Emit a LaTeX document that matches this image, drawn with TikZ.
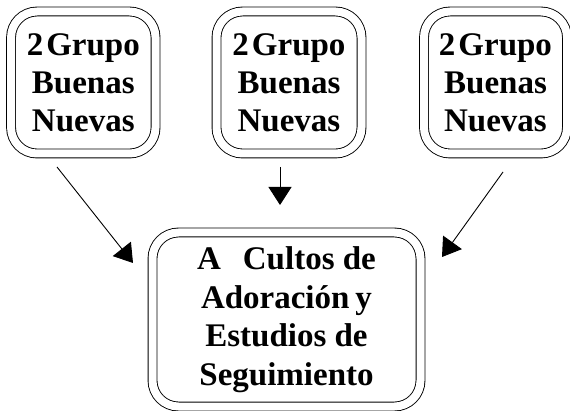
\documentclass[tikz,border=0pt]{standalone}
\usepackage{fontspec}
\setmainfont{Liberation Serif}
\usetikzlibrary{arrows.meta}
\tikzset{
  dbox/.style={draw, line width=0.9pt, double, double distance=8pt, rounded corners=26pt,
    inner sep=0pt, align=center, font=\bfseries\fontsize{33}{38}\selectfont},
  arr/.style={line width=0.9pt, -{Triangle[length=18pt,width=23pt]}}
}
\begin{document}
\begin{tikzpicture}[x=1pt,y=-1pt]
\useasboundingbox (0,0) rectangle (570,411);
\node[dbox, minimum width=144.5pt, minimum height=142pt] (g1) at (83.3,82.5) {2\hspace{3pt}Grupo\\Buenas\\Nuevas};
\node[dbox, minimum width=145pt, minimum height=142pt] (g2) at (289,82.5) {2\hspace{3pt}Grupo\\Buenas\\Nuevas};
\node[dbox, minimum width=143pt, minimum height=142pt] (g3) at (495.5,82.5) {2\hspace{3pt}Grupo\\Buenas\\Nuevas};
\node[dbox, minimum width=268pt, minimum height=174pt, font=\bfseries\fontsize{33}{38.5}\selectfont] (c) at (286.5,319.5) {A\hspace{22pt}Cultos de\\Adoración\hspace{6pt}y\\Estudios de\\Seguimiento};
\coordinate (s1) at (57,167);
\coordinate (e1) at (133,263);
\coordinate (s2) at (280,167);
\coordinate (e2) at (280,205);
\coordinate (s3) at (503,172);
\coordinate (e3) at (442,257);
\draw[arr] (s1) -- (e1);
\draw[arr] (s2) -- (e2);
\draw[arr] (s3) -- (e3);
\end{tikzpicture}
\end{document}
